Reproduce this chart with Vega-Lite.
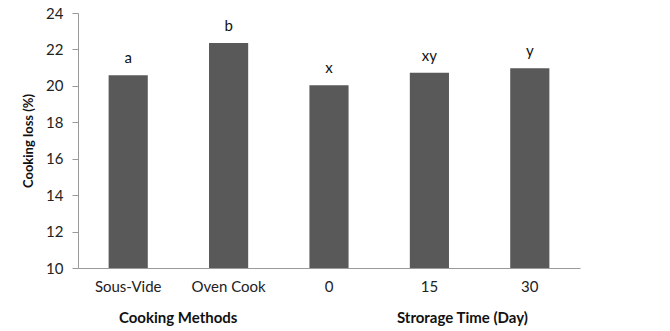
{
  "$schema": "https://vega.github.io/schema/vega-lite/v6.json",
  "width": 502,
  "height": 255,
  "autosize": {"type": "none"},
  "padding": {"top": 13, "left": 78, "right": 90, "bottom": 63},
  "background": "white",
  "config": {
    "view": {"stroke": null},
    "font": "Lato",
    "axis": {"labelFont": "Lato", "titleFont": "Lato", "labelColor": "#222", "titleColor": "#111"}
  },
  "datasets": {
    "bars": [
      {"cat": "Sous-Vide", "loss": 20.58, "sig": "a"},
      {"cat": "Oven Cook", "loss": 22.35, "sig": "b"},
      {"cat": "0", "loss": 20.03, "sig": "x"},
      {"cat": "15", "loss": 20.72, "sig": "xy"},
      {"cat": "30", "loss": 20.97, "sig": "y"}
    ],
    "groups": [
      {"cat": "Sous-Vide", "group": "Cooking Methods", "loss": 10},
      {"cat": "15", "group": "Strorage Time (Day)", "loss": 10}
    ]
  },
  "encoding": {
    "x": {
      "field": "cat", "type": "nominal",
      "scale": {"domain": ["Sous-Vide", "Oven Cook", "0", "15", "30"], "paddingInner": 0.61, "paddingOuter": 0.305},
      "axis": {"title": null, "labelAngle": 0, "ticks": false, "domainColor": "#999", "labelFontSize": 15, "labelPadding": 11, "labelOverlap": false}
    },
    "y": {
      "field": "loss", "type": "quantitative",
      "scale": {"domain": [10, 24], "zero": false, "nice": false},
      "axis": {
        "title": "Cooking loss (%)", "values": [10, 12, 14, 16, 18, 20, 22, 24], "labelOverlap": false,
        "grid": false, "domainColor": "#999", "tickColor": "#999", "tickSize": 6,
        "labelFontSize": 15, "labelPadding": 9, "titleFontSize": 13, "titleFontWeight": "bold", "titlePadding": 10
      }
    }
  },
  "layer": [
    {
      "data": {"name": "bars"},
      "mark": {"type": "bar", "color": "#595959"},
      "encoding": {
        "y2": {"datum": 10}
      }
    },
    {
      "data": {"name": "bars"},
      "mark": {"type": "text", "baseline": "bottom", "dy": -9, "fontSize": 15, "color": "#111", "font": "Lato"},
      "encoding": {
        "text": {"field": "sig"}
      }
    },
    {
      "data": {"name": "groups"},
      "mark": {"type": "text", "baseline": "middle", "dy": 50, "fontSize": 15, "fontWeight": "bold", "color": "#111", "font": "Lato",
               "xOffset": {"expr": "datum.group == 'Cooking Methods' ? 50 : 33"}},
      "encoding": {
        "text": {"field": "group"}
      }
    }
  ]
}
